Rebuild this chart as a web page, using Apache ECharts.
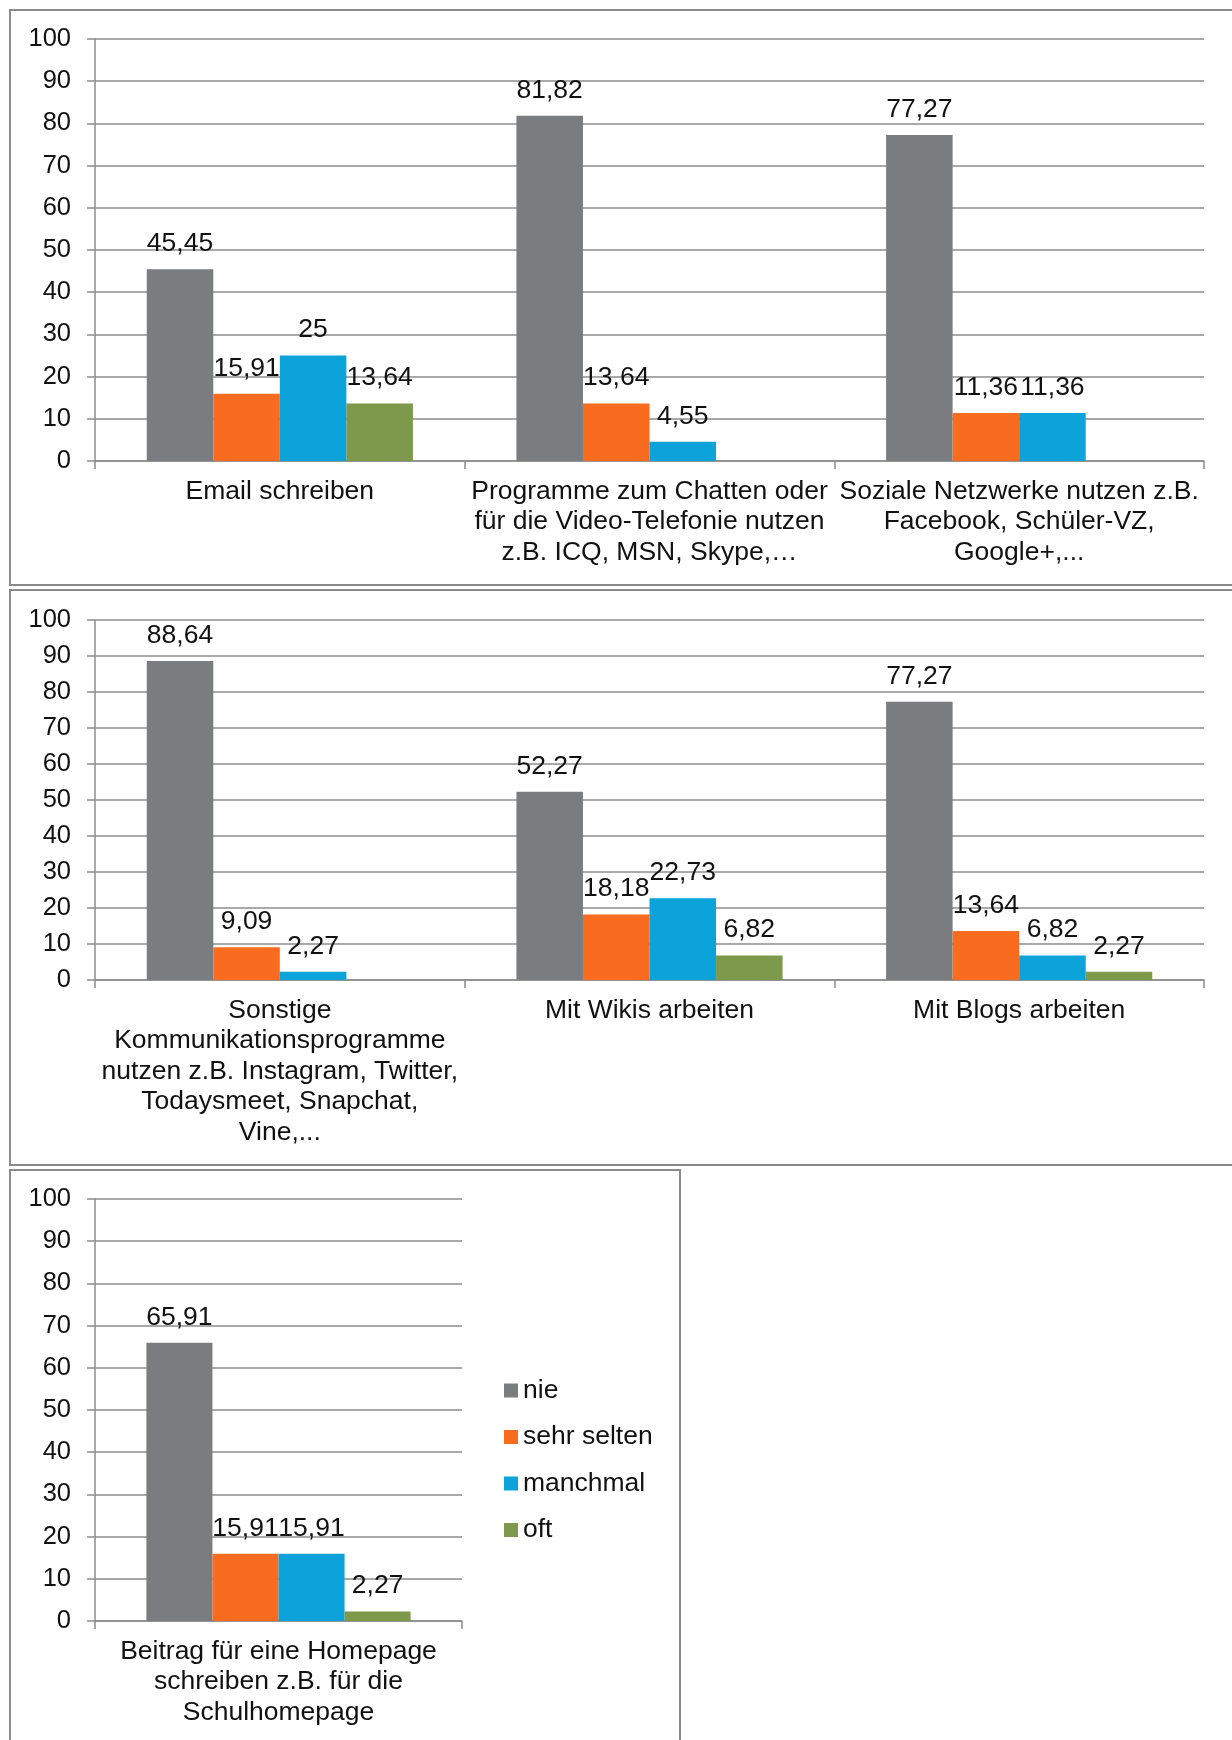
<!DOCTYPE html>
<html>
<head>
<meta charset="utf-8">
<title>Nutzung digitaler Kommunikationsformen</title>
<script src="https://cdn.jsdelivr.net/npm/echarts@6/dist/echarts.min.js"></script>
<style>
  html, body { margin: 0; padding: 0; background: #fff; }
  #chart { width: 1232px; height: 1740px; }
</style>
</head>
<body>
<div id="chart"></div>
<script>
// Frequency answers (percent) per activity, split into three panels.
const seriesNames = ['nie', 'sehr selten', 'manchmal', 'oft'];
const yTicks = [0, 10, 20, 30, 40, 50, 60, 70, 80, 90, 100];

const panel1Categories = [
  'Email schreiben',
  'Programme zum Chatten oder\nfür die Video-Telefonie nutzen\nz.B. ICQ, MSN, Skype,…',
  'Soziale Netzwerke nutzen z.B.\nFacebook, Schüler-VZ,\nGoogle+,...'
];
const panel1Nie = [45.45, 81.82, 77.27];
const panel1SehrSelten = [15.91, 13.64, 11.36];
const panel1Manchmal = [25, 4.55, 11.36];
const panel1Oft = [13.64, null, null];

const panel2Categories = [
  'Sonstige\nKommunikationsprogramme\nnutzen z.B. Instagram, Twitter,\nTodaysmeet, Snapchat,\nVine,...',
  'Mit Wikis arbeiten',
  'Mit Blogs arbeiten'
];
const panel2Nie = [88.64, 52.27, 77.27];
const panel2SehrSelten = [9.09, 18.18, 13.64];
const panel2Manchmal = [2.27, 22.73, 6.82];
const panel2Oft = [null, 6.82, 2.27];

const panel3Categories = [
  'Beitrag für eine Homepage\nschreiben z.B. für die\nSchulhomepage'
];
const panel3Nie = [65.91];
const panel3SehrSelten = [15.91];
const panel3Manchmal = [15.91];
const panel3Oft = [2.27];

const panelData = [
  { categories: panel1Categories, values: [panel1Nie, panel1SehrSelten, panel1Manchmal, panel1Oft] },
  { categories: panel2Categories, values: [panel2Nie, panel2SehrSelten, panel2Manchmal, panel2Oft] },
  { categories: panel3Categories, values: [panel3Nie, panel3SehrSelten, panel3Manchmal, panel3Oft] }
];

// Styling
const FONT = '"Liberation Sans", Arial, Helvetica, sans-serif';
const FS = 26.5;
const FS_Y = 25.5;
const seriesColors = ['#7b7c80', '#f96b1e', '#0ca2da', '#7e994b'];
const lineColor = '#8c8c8c';

const gridBoxes = [
  { left: 95, top: 39, width: 1109, height: 422 },
  { left: 95, top: 620, width: 1109, height: 360 },
  { left: 95, top: 1199, width: 367, height: 422 }
];

const fmt = v => String(v).replace('.', ',');

const grids = gridBoxes.map(b => ({ left: b.left, top: b.top, width: b.width, height: b.height, containLabel: false }));

const xAxes = panelData.map((p, i) => ({
  type: 'category',
  gridIndex: i,
  data: p.categories,
  boundaryGap: true,
  axisLine: { show: true, lineStyle: { color: lineColor, width: 1.5 } },
  axisTick: { show: true, length: 8, lineStyle: { color: lineColor, width: 1.5 } },
  axisLabel: {
    interval: 0,
    margin: 15,
    color: '#111',
    fontFamily: FONT,
    fontSize: FS,
    lineHeight: 30.5,
    align: 'center'
  },
  splitLine: { show: false }
}));

const yAxes = panelData.map((p, i) => ({
  type: 'value',
  gridIndex: i,
  min: yTicks[0],
  max: yTicks[yTicks.length - 1],
  interval: yTicks[1] - yTicks[0],
  axisLine: { show: true, lineStyle: { color: lineColor, width: 1.5 } },
  axisTick: { show: true, length: 8, lineStyle: { color: lineColor, width: 1.5 } },
  axisLabel: { margin: 24, color: '#111', fontFamily: FONT, fontSize: FS_Y },
  splitLine: { show: true, lineStyle: { color: lineColor, width: 1.5 } }
}));

const series = [];
panelData.forEach((p, gi) => {
  seriesNames.forEach((name, si) => {
    series.push({
      name: name,
      type: 'bar',
      xAxisIndex: gi,
      yAxisIndex: gi,
      data: p.values[si],
      barGap: '0%',
      barCategoryGap: '28%',
      itemStyle: { color: seriesColors[si] },
      label: {
        show: true,
        position: 'top',
        distance: 12,
        color: '#111',
        fontFamily: FONT,
        fontSize: FS,
        formatter: prm => (prm.value == null ? '' : fmt(prm.value))
      },
      emphasis: { disabled: true },
      animation: false
    });
  });
});

// Panel frames
const frame = (x, y, w, h) => ({
  type: 'rect',
  shape: { x: x, y: y, width: w, height: h },
  style: { fill: 'none', stroke: '#8a8a8a', lineWidth: 2 },
  silent: true,
  z: 0
});

const option = {
  backgroundColor: '#fff',
  animation: false,
  grid: grids,
  xAxis: xAxes,
  yAxis: yAxes,
  series: series,
  legend: {
    data: seriesNames,
    orient: 'vertical',
    left: 504,
    top: 1377,
    padding: 0,
    itemWidth: 14,
    itemHeight: 14,
    itemGap: 19.5,
    icon: 'rect',
    selectedMode: false,
    textStyle: { color: '#111', fontFamily: FONT, fontSize: FS, lineHeight: 25 }
  },
  graphic: [
    frame(10, 10, 1240, 575),
    frame(10, 590, 1240, 575),
    frame(10, 1170, 670, 600)
  ]
};

const chart = echarts.init(document.getElementById('chart'), null, { renderer: 'canvas' });
chart.setOption(option);
</script>
</body>
</html>
